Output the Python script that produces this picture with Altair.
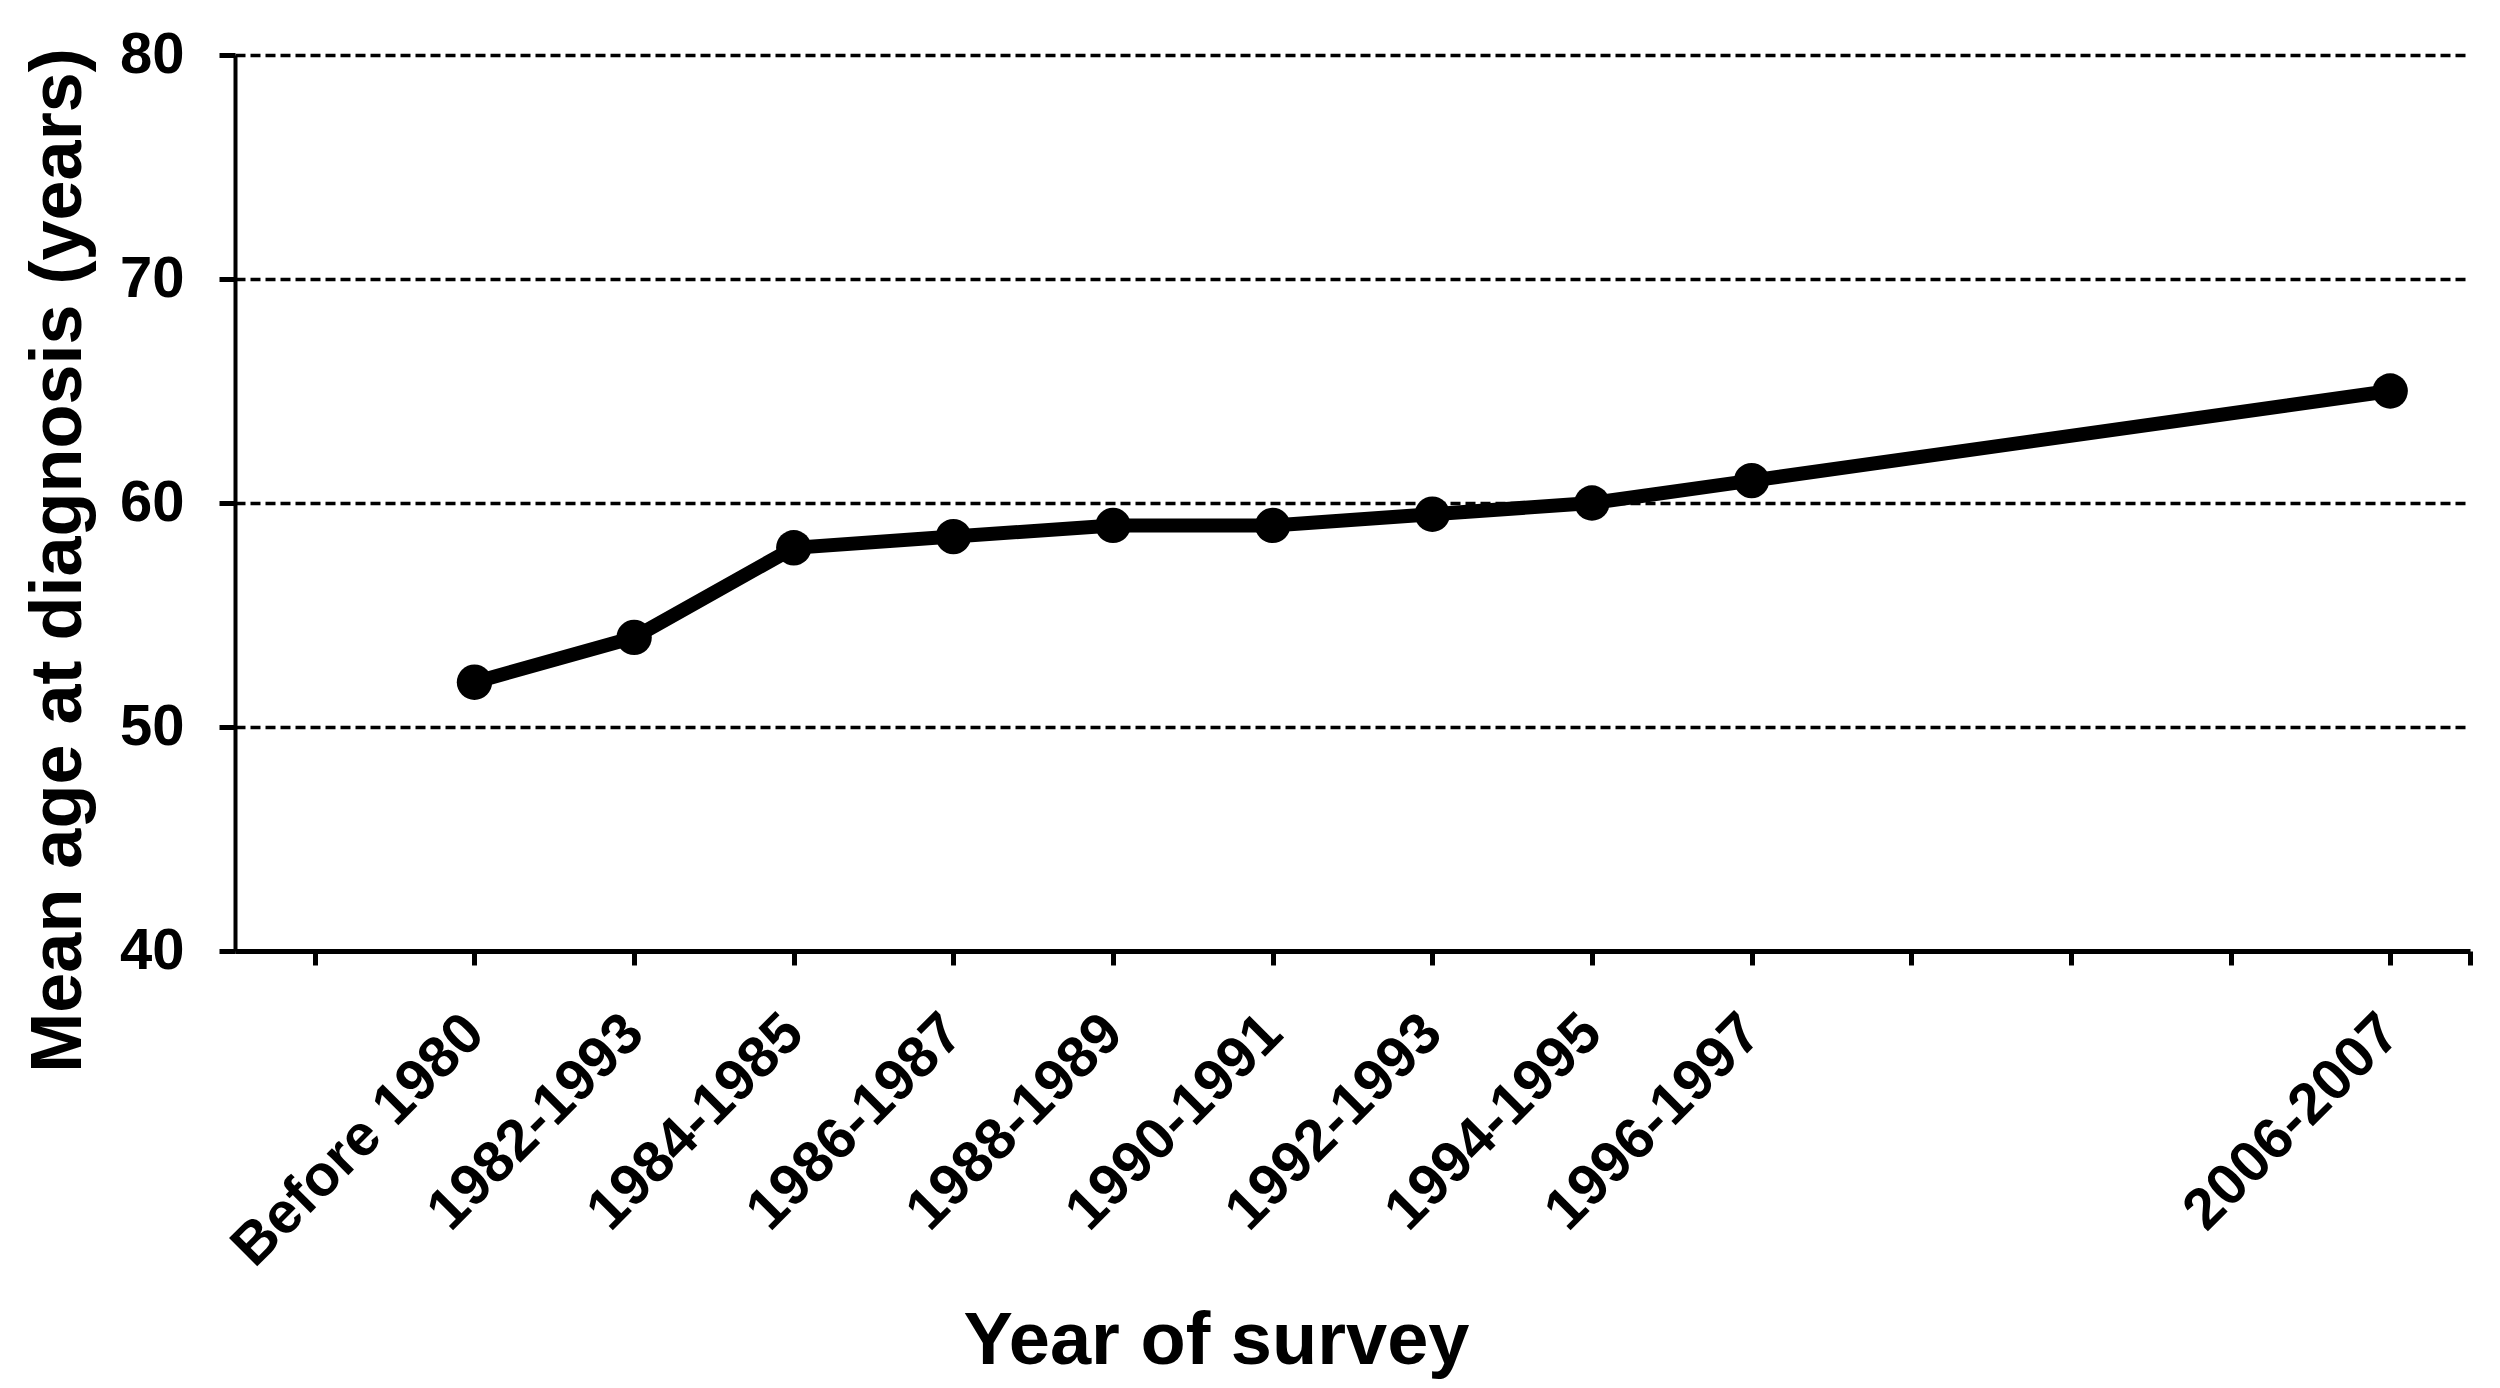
import altair as alt
import pandas as pd

# Data
categories = ["Before 1980", "1982-1993", "1984-1985", "1986-1987", "1988-1989",
              "1990-1991", "1992-1993", "1994-1995", "1996-1997", "2006-2007"]
positions = [1, 2, 3, 4, 5, 6, 7, 8, 9, 13]
mean_age = [52, 54, 58, 58.5, 59, 59, 59.5, 60, 61, 65]

x_tick_values = [0, 1, 2, 3, 4, 5, 6, 7, 8, 9, 10, 11, 12, 13, 13.5]
y_tick_values = [40, 50, 60, 70, 80]

df = pd.DataFrame({"pos": positions, "age": mean_age, "label": categories})

label_expr = ""
for p, c in zip(positions, categories):
    label_expr += f"datum.value == {p} ? '{c}' : "
label_expr += "''"

FONT = "Liberation Sans, Arial, Helvetica, sans-serif"
BLACK = "#000000"

x = alt.X(
    "pos:Q",
    scale=alt.Scale(domain=[-0.5, 13.5], nice=False, zero=False),
    axis=alt.Axis(
        values=x_tick_values,
        labelExpr=label_expr,
        labelAngle=315,
        labelAlign="right",
        labelBaseline="middle",
        labelFont=FONT,
        labelFontSize=58,
        labelFontWeight="bold",
        labelColor=BLACK,
        labelPadding=59,
        labelOverlap=False,
        labelFlush=False,
        labelLimit=2000,
        tickSize=14,
        tickWidth=5,
        tickColor=BLACK,
        domainColor=BLACK,
        domainWidth=5,
        grid=False,
        title="Year of survey",
        titleFont=FONT,
        titleFontSize=74,
        titleFontWeight="bold",
        titleColor=BLACK,
        titleX=981,
        titleY=412,
        titleAlign="center",
        titleBaseline="alphabetic",
        titleAngle=0,
        titleLimit=3000,
    ),
)

y = alt.Y(
    "age:Q",
    scale=alt.Scale(domain=[40, 80], nice=False, zero=False),
    axis=alt.Axis(
        values=y_tick_values,
        labelFont=FONT,
        labelFontSize=58,
        labelFontWeight="bold",
        labelColor=BLACK,
        labelPadding=35,
        labelLimit=2000,
        tickSize=16,
        tickWidth=5,
        tickColor=BLACK,
        domainColor=BLACK,
        domainWidth=4,
        grid=True,
        gridDash=[10, 5],
        gridColor=BLACK,
        gridWidth=3.5,
        gridOpacity=1,
        title="Mean age at diagnosis (years)",
        titleFont=FONT,
        titleFontSize=72,
        titleFontWeight="bold",
        titleColor=BLACK,
        titleX=-155,
        titleY=505,
        titleAngle=270,
        titleAlign="center",
        titleBaseline="alphabetic",
        titleLimit=3000,
    ),
)

base = alt.Chart(df).encode(x=x, y=y)
line = base.mark_line(color=BLACK, strokeWidth=14)
points = base.mark_circle(size=1250, color=BLACK, opacity=1)

chart = alt.layer(line, points).properties(
    width=2235,
    height=896,
    padding={"left": 227, "top": 47, "right": 22, "bottom": 429},
    autosize=alt.AutoSizeParams(type="none"),
    background="white",
).configure_view(stroke=None)

chart.save("out.html", embed_options={"renderer": "svg", "actions": False})
